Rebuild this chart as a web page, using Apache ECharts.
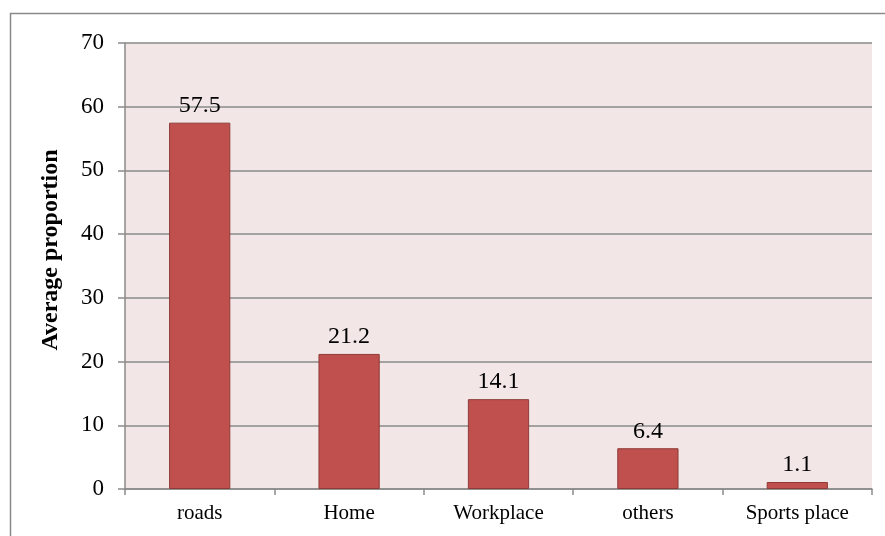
<!DOCTYPE html>
<html>
<head>
<meta charset="utf-8">
<script src="https://cdn.jsdelivr.net/npm/echarts@6/dist/echarts.min.js"></script>
<style>
  html, body { margin: 0; padding: 0; background: #ffffff; }
  #chart { width: 885px; height: 536px; }
</style>
</head>
<body>
<div id="chart"></div>
<script>
// Average proportion by location
const categories = ['roads', 'Home', 'Workplace', 'others', 'Sports place'];
const values = [57.5, 21.2, 14.1, 6.4, 1.1];
const yTicks = [0, 10, 20, 30, 40, 50, 60, 70];
const yTitle = 'Average proportion';

const FONT = '"Liberation Serif", "Times New Roman", serif';

const chart = echarts.init(document.getElementById('chart'));
chart.setOption({
  animation: false,
  backgroundColor: '#ffffff',
  graphic: [{
    // chart frame
    type: 'rect',
    silent: true,
    z: -10,
    shape: { x: 10.5, y: 13.5, width: 1000, height: 1000 },
    style: { fill: 'none', stroke: '#8a8a8a', lineWidth: 1.5 }
  }, {
    // vertical axis title
    type: 'text',
    silent: true,
    x: 51,
    y: 250,
    rotation: Math.PI / 2,
    style: {
      text: yTitle,
      fill: '#000',
      font: 'bold 24px ' + FONT,
      align: 'center',
      verticalAlign: 'middle'
    }
  }],
  grid: {
    left: 125, top: 43, right: 13, bottom: 47,
    show: true,
    backgroundColor: '#F2E7E6',
    borderWidth: 0
  },
  xAxis: {
    type: 'category',
    data: categories,
    axisLine: { lineStyle: { color: '#8a8a8a', width: 1.5 } },
    axisTick: { show: true, length: 6, alignWithLabel: false, lineStyle: { color: '#8a8a8a', width: 1.5 } },
    axisLabel: { color: '#000', fontFamily: FONT, fontSize: 21, margin: 14 }
  },
  yAxis: {
    type: 'value',
    min: yTicks[0],
    max: yTicks[yTicks.length - 1],
    interval: 10,
    axisLine: { show: true, lineStyle: { color: '#8a8a8a', width: 1.5 } },
    axisTick: { show: true, length: 7, lineStyle: { color: '#8a8a8a', width: 1.5 } },
    axisLabel: { color: '#000', fontFamily: FONT, fontSize: 23, margin: 21 },
    splitLine: { lineStyle: { color: '#8a8a8a', width: 1.5 } }
  },
  series: [{
    type: 'bar',
    data: values,
    barWidth: '41%',
    itemStyle: { color: '#C0504D', borderColor: '#8E3B38', borderWidth: 1 },
    label: {
      show: true,
      position: 'top',
      distance: 5,
      color: '#000',
      fontFamily: FONT,
      fontSize: 24
    }
  }]
});
</script>
</body>
</html>
